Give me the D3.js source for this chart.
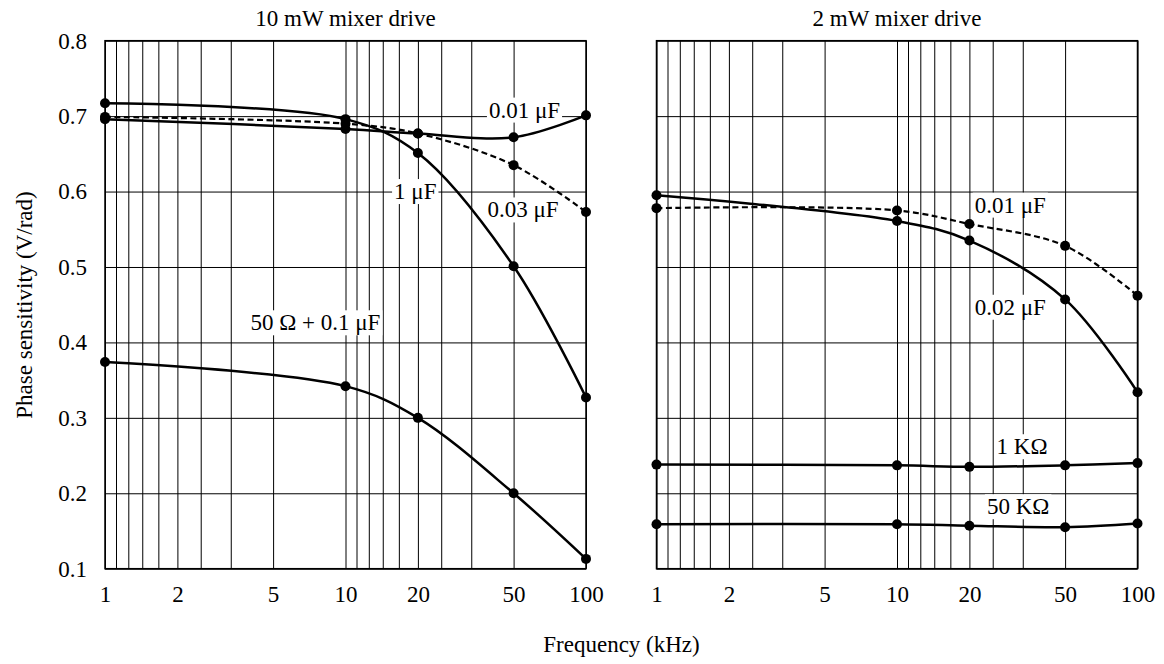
<!DOCTYPE html>
<html>
<head>
<meta charset="utf-8">
<script src="https://cdn.jsdelivr.net/npm/d3@7"></script>
<style>
  html, body { margin: 0; padding: 0; background: #fff; }
  svg text { font-family: "Liberation Serif", "Times New Roman", serif; fill: #000; }
</style>
</head>
<body>
<div id="chart"></div>
<script>
// measurement frequencies (kHz)
const freqs = [1, 10, 20, 50, 100];
const xTickLabels = [1, 2, 5, 10, 20, 50, 100];
const yTicks = [0.1, 0.2, 0.3, 0.4, 0.5, 0.6, 0.7, 0.8];
// vertical grid lines sit at decade * 10 / n
const gridDecades = [1, 10];
const gridDivisors = [1, 2, 3, 4, 5, 6, 7, 8, 9];

// 10 mW mixer drive
const drive10_1uF = [0.717, 0.696, 0.651, 0.501, 0.327];
const drive10_003uF = [0.699, 0.690, 0.677, 0.635, 0.573];
const drive10_001uF = [0.696, 0.683, 0.677, 0.672, 0.701];
const drive10_50ohm = [0.374, 0.342, 0.300, 0.200, 0.113];

// 2 mW mixer drive
const drive2_001uF = [0.578, 0.575, 0.557, 0.528, 0.462];
const drive2_002uF = [0.595, 0.561, 0.535, 0.457, 0.334];
const drive2_1k = [0.238, 0.237, 0.235, 0.237, 0.240];
const drive2_50k = [0.159, 0.159, 0.157, 0.155, 0.160];

const width = 1164, height = 664;
const plotTop = 40.7, plotBottom = 568.7;
const fontSize = 23;

const panels = [
  {
    title: '10 mW mixer drive', left: 105, right: 586, yLabels: true,
    series: [
      { values: drive10_1uF },
      { values: drive10_003uF, dashed: true },
      { values: drive10_001uF },
      { values: drive10_50ohm }
    ],
    notes: [
      { text: '0.01 μF', f: 55.5, v: 0.708 },
      { text: '1 μF', f: 19.5, v: 0.6 },
      { text: '0.03 μF', f: 54.7, v: 0.5756 },
      { text: '50 Ω + 0.1 μF', f: 7.5, v: 0.426 }
    ]
  },
  {
    title: '2 mW mixer drive', left: 656.5, right: 1137.5, yLabels: false,
    series: [
      { values: drive2_001uF, dashed: true },
      { values: drive2_002uF },
      { values: drive2_1k },
      { values: drive2_50k }
    ],
    notes: [
      { text: '0.01 μF', f: 29.6, v: 0.582 },
      { text: '0.02 μF', f: 29.6, v: 0.4466 },
      { text: '1 KΩ', f: 33.1, v: 0.2617 },
      { text: '50 KΩ', f: 31.9, v: 0.1822 }
    ]
  }
];

const gridValues = [];
gridDecades.forEach(d => gridDivisors.forEach(n => gridValues.push(d * 10 / n)));
gridValues.push(1);

const svg = d3.select('#chart').append('svg')
    .attr('width', width)
    .attr('height', height);

const y = d3.scaleLinear().domain([0.1, 0.8]).range([plotBottom, plotTop]);

panels.forEach(p => {
  const x = d3.scaleLog().domain([1, 100]).range([p.left, p.right]);
  const g = svg.append('g');

  // vertical grid
  g.append('g')
      .attr('transform', `translate(0,${plotBottom})`)
      .call(d3.axisBottom(x).tickValues(gridValues).tickSize(-(plotBottom - plotTop)).tickFormat(''))
      .call(a => a.select('.domain').remove())
      .call(a => a.selectAll('line').attr('stroke', '#000').attr('stroke-width', 1));

  // horizontal grid
  g.append('g')
      .attr('transform', `translate(${p.left},0)`)
      .call(d3.axisLeft(y).tickValues(yTicks).tickSize(-(p.right - p.left)).tickFormat(''))
      .call(a => a.select('.domain').remove())
      .call(a => a.selectAll('line').attr('stroke', '#000').attr('stroke-width', 1));

  g.append('rect')
      .attr('x', p.left).attr('y', plotTop)
      .attr('width', p.right - p.left).attr('height', plotBottom - plotTop)
      .attr('fill', 'none').attr('stroke', '#000').attr('stroke-width', 1.5);

  // x tick labels
  g.append('g')
      .attr('transform', 'translate(0,594)')
      .call(d3.axisBottom(x).tickValues(xTickLabels).tickSize(0).tickFormat(d3.format('d')))
      .call(a => a.select('.domain').remove())
      .call(a => a.selectAll('text')
          .attr('y', 0).attr('dy', null)
          .attr('dominant-baseline', 'central')
          .style('font-size', fontSize + 'px')
          .style('font-family', '"Liberation Serif", serif'));

  if (p.yLabels) {
    g.append('g')
        .attr('transform', `translate(${p.left},0)`)
        .call(d3.axisLeft(y).tickValues(yTicks).tickSize(0).tickPadding(18).tickFormat(d3.format('.1f')))
        .call(a => a.select('.domain').remove())
        .call(a => a.selectAll('text')
            .style('font-size', fontSize + 'px')
            .style('font-family', '"Liberation Serif", serif'));
  }

  // curve labels on a white patch
  p.notes.forEach(n => {
    const t = g.append('text')
        .attr('x', x(n.f)).attr('y', y(n.v))
        .attr('text-anchor', 'middle')
        .attr('dominant-baseline', 'central')
        .style('font-size', fontSize + 'px')
        .text(n.text);
    const b = t.node().getBBox();
    g.insert('rect', () => t.node())
        .attr('x', b.x - 2).attr('y', b.y)
        .attr('width', b.width + 4).attr('height', b.height)
        .attr('fill', '#fff');
  });

  const line = d3.line()
      .x((d, i) => x(freqs[i]))
      .y(d => y(d))
      .curve(d3.curveCatmullRom.alpha(0.5));

  p.series.forEach(s => {
    g.append('path')
        .attr('d', line(s.values))
        .attr('fill', 'none')
        .attr('stroke', '#000')
        .attr('stroke-width', s.dashed ? 2.2 : 2.5)
        .attr('stroke-dasharray', s.dashed ? '6,3.5' : null);
    g.selectAll(null)
        .data(s.values)
        .enter().append('circle')
        .attr('cx', (d, i) => x(freqs[i]))
        .attr('cy', d => y(d))
        .attr('r', 5)
        .attr('fill', '#000');
  });

  g.append('text')
      .attr('x', (p.left + p.right) / 2).attr('y', 26)
      .attr('text-anchor', 'middle')
      .style('font-size', fontSize + 'px')
      .text(p.title);
});

svg.append('text')
    .attr('x', 621.5).attr('y', 652)
    .attr('text-anchor', 'middle')
    .style('font-size', fontSize + 'px')
    .text('Frequency (kHz)');

svg.append('text')
    .attr('transform', 'translate(31.5,305) rotate(-90)')
    .attr('text-anchor', 'middle')
    .style('font-size', fontSize + 'px')
    .text('Phase sensitivity (V/rad)');
</script>
</body>
</html>
